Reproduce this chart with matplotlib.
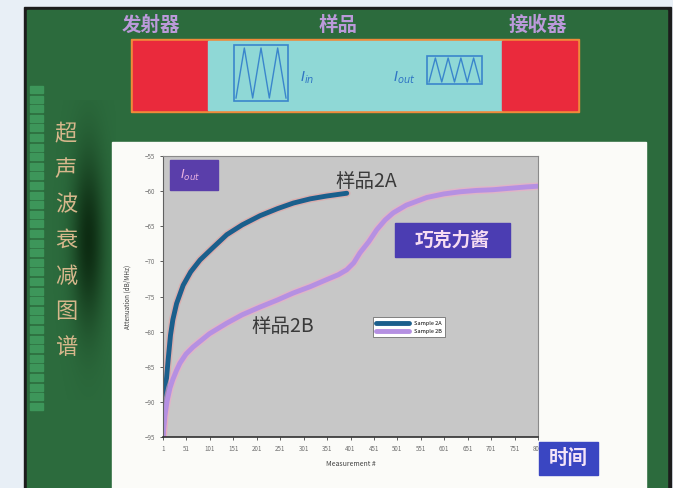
import numpy as np
import matplotlib
matplotlib.use("Agg")
import matplotlib.pyplot as plt
from matplotlib.patches import Rectangle

plt.rcParams['font.family'] = ['Noto Sans CJK SC', 'DejaVu Sans']

# attenuation curves (dB/MHz) vs measurement number
meas_2a = [1, 4, 8, 12, 17, 22, 30, 44, 60, 80, 105, 137, 170, 208, 245, 279, 315, 350, 393]
atten_2a = [-95.0, -91.0, -87.0, -84.0, -80.5, -78.3, -76.0, -73.4, -71.5, -69.8, -68.2,
            -66.2, -64.8, -63.5, -62.5, -61.7, -61.1, -60.7, -60.3]

meas_2b = [1, 5, 10, 16, 22, 30, 37, 50, 65, 100, 137, 170, 208, 245, 279, 315, 350,
           375, 393, 408, 421, 440, 457, 475, 492, 520, 564, 600, 634, 670, 705, 740, 777, 801]
atten_2b = [-95.0, -92.0, -89.8, -88.0, -86.8, -85.5, -84.5, -83.2, -82.2, -80.3, -78.8,
            -77.6, -76.5, -75.5, -74.5, -73.6, -72.6, -71.9, -71.2, -70.2, -68.8, -67.2,
            -65.5, -64.1, -63.1, -62.0, -60.9, -60.4, -60.1, -59.9, -59.8, -59.6, -59.4, -59.3]

xticks = list(range(1, 802, 50))
yticks = list(range(-95, -54, 5))
side_title = "超声波衰减图谱"
top_labels = ["发射器", "样品", "接收器"]

# triangle wave icons
wave_in_x = [0, 1, 2, 3, 4, 5, 6]
wave_in_y = [0, 1, 0, 1, 0, 1, 0]
wave_out_x = [0, 1, 2, 3, 4, 5, 6, 7, 8]
wave_out_y = [0, 1, 0, 1, 0, 1, 0, 1, 0]

fig = plt.figure(figsize=(6.73, 4.88), dpi=100)
fig.patch.set_facecolor('#e8eff6')

# background panel drawn in pixel coordinates
bg = fig.add_axes([0, 0, 1, 1])
bg.set_xlim(0, 673)
bg.set_ylim(488, 0)
bg.axis('off')

bg.add_patch(Rectangle((24, 7), 647, 490, color='#1c1c1c'))
bg.add_patch(Rectangle((27, 10), 640, 480, color='#2c6b3d'))

# darker shading behind the side title
ny, nx = 300, 80
yy, xx = np.mgrid[0:ny, 0:nx]
shade = np.exp(-((xx - 52) / 16.0) ** 2 - ((yy - 140) / 85.0) ** 2)
rgba = np.zeros((ny, nx, 4))
rgba[..., 1] = 0.07
rgba[..., 3] = 0.7 * shade
bg.imshow(rgba, extent=(36, 116, 400, 100), aspect='auto', zorder=2, interpolation='bilinear')

# stripe of light squares on the left edge
for y in np.arange(86, 412, 9.6):
    bg.add_patch(Rectangle((30, y), 13, 7, color='#3d965a', zorder=3))

for i, ch in enumerate(side_title):
    bg.text(66, 134 + i * 35.5, ch, fontsize=16, color='#d6b78c',
            ha='center', va='center', zorder=4)

# emitter / sample / receiver strip
bg.add_patch(Rectangle((131, 39), 448, 73, color='#f08a3a', zorder=3))
bg.add_patch(Rectangle((133, 41), 75, 69, color='#ea2a3c', zorder=4))
bg.add_patch(Rectangle((208, 41), 294, 69, color='#8fd8d6', zorder=4))
bg.add_patch(Rectangle((502, 41), 75, 69, color='#ea2a3c', zorder=4))

for x, lab in zip([151, 338, 538], top_labels):
    bg.text(x, 25, lab, fontsize=14, color='#bb9ada', fontweight='bold',
            style='italic', ha='center', va='center', zorder=4)

bg.add_patch(Rectangle((234, 45), 54, 56, fill=False, ec='#3a86cc', lw=1.2, zorder=5))
wx = 236 + np.array(wave_in_x) * 50 / 6
wy = 98 - np.array(wave_in_y) * 50
bg.plot(wx, wy, color='#3a86cc', lw=1.0, zorder=5)

bg.add_patch(Rectangle((427, 56), 55, 28, fill=False, ec='#3a86cc', lw=1.2, zorder=5))
wx = 429 + np.array(wave_out_x) * 51 / 8
wy = 82 - np.array(wave_out_y) * 24
bg.plot(wx, wy, color='#3a86cc', lw=1.0, zorder=5)

bg.text(307, 78, r'$I_{in}$', fontsize=10, color='#2f74c4', ha='center', va='center', zorder=5)
bg.text(404, 78, r'$I_{out}$', fontsize=10, color='#2f74c4', ha='center', va='center', zorder=5)

# white chart panel
bg.add_patch(Rectangle((112, 142), 534, 350, color='#fbfbf8', zorder=3))

# attenuation chart
ax = fig.add_axes([163 / 673, 51 / 488, 375 / 673, 281 / 488])
ax.set_facecolor('#c7c7c7')
ax.plot(meas_2a, atten_2a, color='#e89a9a', lw=5.5, alpha=0.55, solid_capstyle='round',
        solid_joinstyle='round')
ax.plot(meas_2a, atten_2a, color='#1b5f8c', lw=3.5, solid_capstyle='round',
        solid_joinstyle='round', label='Sample 2A')
ax.plot(meas_2b, atten_2b, color='#f0a8c8', lw=5.5, alpha=0.6, solid_capstyle='round',
        solid_joinstyle='round')
ax.plot(meas_2b, atten_2b, color='#b590e2', lw=3.5, solid_capstyle='round',
        solid_joinstyle='round', label='Sample 2B')

ax.set_xlim(1, 801)
ax.set_ylim(-95, -55)
ax.set_xticks(xticks)
ax.set_yticks(yticks)
ax.tick_params(labelsize=4.5, labelcolor='#707070', length=2, width=0.6, color='#404040')
ax.set_xlabel('Measurement #', fontsize=5, color='#404040', labelpad=5)
ax.set_ylabel('Attenuation (dB/MHz)', fontsize=4.5, color='#404040', labelpad=10)
for side in ['top', 'right']:
    ax.spines[side].set_color('#8a8a8a')
ax.spines['left'].set_color('#606060')
ax.spines['bottom'].set_color('#303030')
ax.spines['bottom'].set_linewidth(1.2)

ax.text(434, -58.6, '样品2A', fontsize=14, color='#3a3a3a', ha='center', va='center')
ax.text(256, -79.3, '样品2B', fontsize=14, color='#3a3a3a', ha='center', va='center')

leg = ax.legend(loc='lower left', bbox_to_anchor=(0.552, 0.345), fontsize=4,
                fancybox=False, edgecolor='#707070', framealpha=1,
                handlelength=6, borderpad=0.6, labelspacing=0.6)
leg.get_frame().set_linewidth(0.6)

# label boxes on top of everything
top = fig.add_axes([0, 0, 1, 1])
top.set_xlim(0, 673)
top.set_ylim(488, 0)
top.patch.set_alpha(0)
top.axis('off')

top.add_patch(Rectangle((170, 160), 48, 30, color='#5a3eaa'))
top.text(190, 175, r'$I_{out}$', fontsize=9, color='#eab2e2', ha='center', va='center')

top.add_patch(Rectangle((395, 223), 115, 34, color='#4b3db2'))
top.text(452, 240, '巧克力酱', fontsize=13.5, color='#f6dcf2', fontweight='bold',
         ha='center', va='center')

top.add_patch(Rectangle((539, 442), 59, 33, color='#3a46c2'))
top.text(568, 458, '时间', fontsize=14, color='#f4e4f8', fontweight='bold',
         ha='center', va='center')

fig.savefig('out.png', dpi=100)
